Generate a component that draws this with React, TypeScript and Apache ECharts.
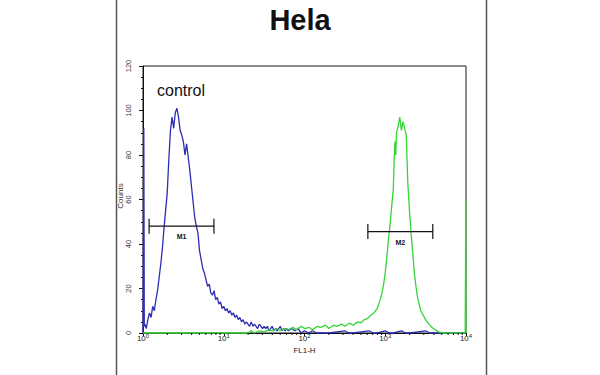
import React, { useEffect, useRef } from 'react';
import * as echarts from 'echarts';

const chartTitle = 'Hela';
const xAxisName = 'FL1-H';
const yAxisName = 'Counts';
const annotation = 'control';

// decades of the log axis and the minor tick multipliers within a decade
const xDecadeExponents = [0, 1, 2, 3];
const minorMultipliers = [2, 3, 4, 5, 6, 7, 8, 9];

// [log10(FL1-H), count]
const blueHistogram: [number, number][] = [
  [0, 0], [0.01, 92], [0.016, 3], [0.024, 4], [0.04, 2], [0.06, 6], [0.08, 9], [0.1, 7], [0.12, 12], [0.14, 10],
  [0.16, 15], [0.18, 19], [0.2, 25], [0.22, 31], [0.24, 38], [0.26, 47], [0.28, 55], [0.3, 63],
  [0.32, 78], [0.34, 91], [0.36, 97], [0.38, 92], [0.4, 99], [0.42, 101], [0.44, 97], [0.46, 91],
  [0.48, 89], [0.5, 86], [0.52, 80], [0.54, 85], [0.56, 79], [0.58, 73], [0.6, 66], [0.62, 59],
  [0.64, 52], [0.66, 48], [0.68, 45], [0.7, 37], [0.72, 33], [0.74, 29], [0.76, 27], [0.78, 24],
  [0.8, 21], [0.82, 22], [0.84, 18], [0.86, 17], [0.88, 19], [0.9, 15], [0.92, 16], [0.94, 13],
  [0.96, 14], [0.98, 11], [1.0, 12], [1.02, 10], [1.04, 11], [1.06, 9], [1.08, 10], [1.1, 8],
  [1.12, 9], [1.14, 7], [1.16, 8], [1.18, 6], [1.2, 7], [1.22, 5], [1.24, 6], [1.26, 4], [1.28, 5],
  [1.3, 4], [1.32, 3], [1.34, 5], [1.36, 3], [1.38, 4], [1.4, 3], [1.42, 2], [1.44, 4], [1.46, 3],
  [1.48, 2], [1.5, 3], [1.52, 2], [1.54, 3], [1.56, 1], [1.58, 2], [1.6, 3], [1.62, 1], [1.64, 2],
  [1.66, 1], [1.68, 2], [1.7, 3], [1.72, 1], [1.74, 2], [1.76, 1], [1.78, 2], [1.8, 1], [1.84, 2],
  [1.88, 1], [1.92, 2], [1.96, 0], [2.0, 1], [2.05, 0], [2.1, 1], [2.15, 0], [2.3, 0], [2.5, 1],
  [2.55, 0], [2.6, 0], [2.8, 1], [2.85, 0], [2.9, 0], [3.0, 1], [3.05, 0], [3.1, 0], [3.2, 1],
  [3.25, 0], [3.3, 0], [3.5, 1], [3.55, 0], [3.6, 0], [4.0, 0],
];

const greenHistogram: [number, number][] = [
  [0, 0], [1.3, 0], [1.34, 1], [1.38, 0], [1.44, 1], [1.5, 0.5], [1.56, 1.5], [1.6, 1], [1.66, 2],
  [1.7, 1], [1.76, 2], [1.8, 1.5], [1.86, 2.5], [1.9, 1.5], [1.96, 3], [2.0, 2], [2.06, 2.5],
  [2.1, 1.5], [2.16, 3], [2.2, 2.5], [2.26, 3.5], [2.3, 2], [2.36, 3.5], [2.4, 3], [2.46, 4],
  [2.5, 3], [2.56, 4.5], [2.6, 3.5], [2.66, 5], [2.7, 4.5], [2.74, 6], [2.78, 6.5], [2.82, 8],
  [2.86, 9], [2.9, 11], [2.93, 14], [2.96, 18], [2.98, 22], [3.0, 27], [3.02, 34], [3.04, 42],
  [3.06, 49], [3.08, 57], [3.1, 65], [3.11, 77], [3.12, 86], [3.13, 80], [3.14, 90], [3.16, 93],
  [3.18, 97], [3.19, 94], [3.2, 91], [3.22, 95], [3.24, 92], [3.26, 89], [3.27, 78], [3.28, 67],
  [3.3, 55], [3.32, 45], [3.34, 36], [3.36, 27], [3.38, 21], [3.4, 16], [3.42, 13], [3.44, 10],
  [3.47, 8], [3.5, 6], [3.54, 4], [3.58, 2.5], [3.62, 1.5], [3.66, 0.5], [3.7, 0], [3.99, 0], [3.998, 60], [4.0, 0],
];

// gate markers
const markerNames = ['M1', 'M2'];
const markerFrom = [1.19, 609];
const markerTo = [7.56, 3880];
const markerLevel = [48, 45.6];

const FONT = '"Liberation Sans", Arial, sans-serif';

export default function App() {
  const ref = useRef<HTMLDivElement>(null);

  useEffect(() => {
    if (!ref.current) return;
    const chart = echarts.init(ref.current, null, { renderer: 'svg' });

    const minorTickValues: number[][] = [];
    xDecadeExponents.forEach((e) => {
      minorMultipliers.forEach((m) => minorTickValues.push([m * Math.pow(10, e), 0]));
    });

    chart.setOption({
      animation: false,
      backgroundColor: '#ffffff',
      title: {
        text: chartTitle,
        left: 'center',
        top: 0,
        textStyle: { fontSize: 29, fontWeight: 'bold', fontFamily: FONT, color: '#111' },
      },
      grid: {
        left: 143,
        right: 134,
        top: 66,
        bottom: 42,
        show: true,
        borderColor: '#1a1a1a',
        borderWidth: 1,
        backgroundColor: 'transparent',
      },
      xAxis: {
        type: 'log',
        logBase: 10,
        min: 1,
        max: 10000,
        name: xAxisName,
        nameLocation: 'middle',
        nameGap: 9,
        nameTextStyle: { fontSize: 8, fontFamily: FONT, color: '#222' },
        axisLine: { show: true, lineStyle: { color: '#111', width: 1 } },
        axisTick: { show: true, inside: false, length: 3, lineStyle: { color: '#111' } },
        minorTick: { show: false },
        splitLine: { show: false },
        axisLabel: {
          margin: 0,
          formatter: (v: number) => `{b|10}{s|${Math.round(Math.log10(v))}}`,
          rich: {
            b: { fontSize: 8, fontFamily: FONT, color: '#222', lineHeight: 9, verticalAlign: 'bottom' },
            s: { fontSize: 6, fontFamily: FONT, color: '#222', lineHeight: 5, verticalAlign: 'top' },
          },
        },
      },
      yAxis: {
        type: 'value',
        min: 0,
        max: 120,
        interval: 20,
        axisLine: { show: true, lineStyle: { color: '#111', width: 1 } },
        axisTick: { show: true, length: 4, lineStyle: { color: '#111' } },
        minorTick: { show: true, splitNumber: 4, length: 2, lineStyle: { color: '#111' } },
        splitLine: { show: false },
        axisLabel: { rotate: 90, fontSize: 7.5, fontFamily: FONT, color: '#333', margin: 11 },
      },
      graphic: [
        { type: 'line', shape: { x1: 116.5, y1: 0, x2: 116.5, y2: 375 }, style: { stroke: '#555', lineWidth: 1.5 } },
        { type: 'line', shape: { x1: 486.5, y1: 0, x2: 486.5, y2: 375 }, style: { stroke: '#555', lineWidth: 1.5 } },
        {
          type: 'text',
          x: 157,
          y: 90,
          style: { text: annotation, fontSize: 16, fontFamily: FONT, fill: '#111', align: 'left', verticalAlign: 'middle' },
        },
        {
          type: 'text',
          x: 120,
          y: 196,
          rotation: Math.PI / 2,
          style: { text: yAxisName, fontSize: 8, fontFamily: FONT, fill: '#333', align: 'center', verticalAlign: 'middle' },
        },
      ],
      series: [
        {
          type: 'line',
          name: 'control',
          data: blueHistogram.map(([d, c]) => [Math.pow(10, d), c]),
          symbol: 'none',
          showSymbol: false,
          clip: false,
          lineStyle: { color: '#2d2db4', width: 1.3 },
          z: 3,
        },
        {
          type: 'line',
          name: 'Hela',
          data: greenHistogram.map(([d, c]) => [Math.pow(10, d), c]),
          symbol: 'none',
          showSymbol: false,
          clip: false,
          lineStyle: { color: '#36d436', width: 1.3 },
          z: 4,
        },
        {
          type: 'custom',
          silent: true,
          clip: false,
          data: minorTickValues,
          encode: { x: 0, y: 1 },
          z: 5,
          renderItem: (_params: any, api: any) => {
            const p = api.coord([api.value(0), 0]);
            return {
              type: 'line',
              shape: { x1: p[0], y1: p[1], x2: p[0], y2: p[1] + 2 },
              style: { stroke: '#111', lineWidth: 1 },
            };
          },
        },
        {
          type: 'custom',
          silent: true,
          clip: false,
          data: markerNames.map((_n, i) => [markerFrom[i], markerTo[i], markerLevel[i]]),
          encode: { x: [0, 1], y: 2 },
          z: 6,
          renderItem: (params: any, api: any) => {
            const a = api.coord([api.value(0), api.value(2)]);
            const b = api.coord([api.value(1), api.value(2)]);
            const cap = 7.5;
            const st = { stroke: '#111', lineWidth: 1.2 };
            return {
              type: 'group',
              children: [
                { type: 'line', shape: { x1: a[0], y1: a[1], x2: b[0], y2: b[1] }, style: st },
                { type: 'line', shape: { x1: a[0], y1: a[1] - cap, x2: a[0], y2: a[1] + cap }, style: st },
                { type: 'line', shape: { x1: b[0], y1: b[1] - cap, x2: b[0], y2: b[1] + cap }, style: st },
                {
                  type: 'text',
                  x: (a[0] + b[0]) / 2,
                  y: a[1] + 10.5,
                  style: {
                    text: markerNames[params.dataIndex],
                    fontSize: 7,
                    fontWeight: 'bold',
                    fontFamily: FONT,
                    fill: '#111',
                    align: 'center',
                    verticalAlign: 'middle',
                  },
                },
              ],
            };
          },
        },
      ],
    });

    return () => chart.dispose();
  }, []);

  return <div ref={ref} style={{ position: 'fixed', left: 0, top: 0, width: 600, height: 375 }} />;
}
